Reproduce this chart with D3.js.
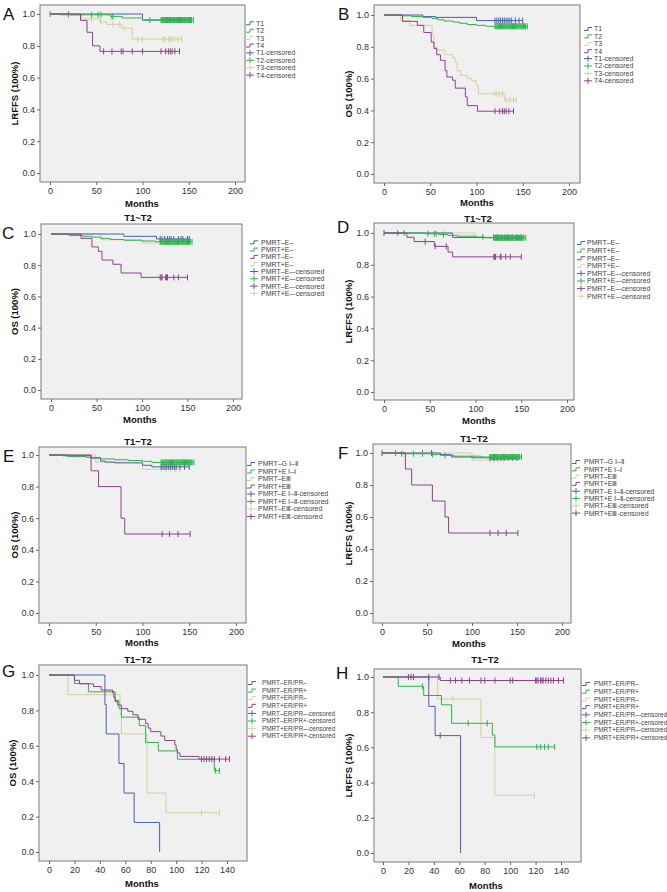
<!DOCTYPE html>
<html><head><meta charset="utf-8">
<script src="https://cdn.jsdelivr.net/npm/d3@7"></script>
<style>body{margin:0;background:#fff} text{font-family:"Liberation Sans",Arial,sans-serif}</style>
</head><body><svg id="c" width="667" height="892"></svg>
<script>
// ---------- DATA: Kaplan-Meier steps [months, survival] and censored times ----------
const dense = [120,121,122,123,124,125,126,127,128,129,130,131,132,133,134,135,136,137,138,139,140,141,142,143,144,145,146,147,148,149,150,151,152,153,155];

// Panel A  LRFFS by T stage (T1, T2, T3, T4)
const aT1 = [[100,0.962]];                       const aT1c = [122,126,130,134,138,142,146,150];
const aT2 = [[22,0.995],[65,0.985],[78,0.975],[100,0.962]];
const aT2c = [0,20,45,52,55,67,68,108].concat(dense);
const aT3 = [[12,0.99],[34,0.97],[54,0.95],[61,0.935],[77,0.91],[89,0.842]];
const aT3c = [20,45,55,68,75,80,95,100,122,124,128,130,132,135,138,142];
const aT4 = [[33,0.96],[40,0.885],[46,0.80],[54,0.765]];
const aT4c = [58,67,77,79,89,100,120,125,128,130,132,135,140];

// Panel B  OS by T stage
const bT1 = [[42,0.99],[56,0.985],[100,0.965]];
const bT1c = [120,122,124,126,128,130,132,134,136,138,142,146,150];
const bT2 = [[20,0.995],[30,0.99],[42,0.985],[52,0.978],[58,0.97],[65,0.962],[75,0.955],[82,0.948],[90,0.94],[100,0.935],[110,0.929]];
const bT2c = dense;
const bT3 = [[18,0.965],[28,0.935],[52,0.88],[54,0.80],[57,0.78],[66,0.75],[74,0.73],[77,0.705],[79,0.65],[83,0.62],[90,0.60],[95,0.585],[100,0.555],[102,0.505],[130,0.465]];
const bT3c = [120,122,125,128,132,136,140,143];
const bT4 = [[20,0.96],[36,0.935],[43,0.89],[51,0.83],[54,0.79],[57,0.75],[61,0.715],[66,0.65],[68,0.61],[74,0.59],[77,0.54],[88,0.485],[90,0.43],[101,0.395]];
const bT4c = [120,125,128,130,132,135,140];

// Panel C  OS, T1~T2 (blue, green, purple, beige)
const cS1 = [[80,0.985],[116,0.968]];            const cS1c = [120,122,125,128,130,132,135,140,143,145,150,152];
const cS2 = [[20,0.99],[35,0.985],[45,0.98],[55,0.972],[65,0.965],[80,0.96],[100,0.955],[115,0.95]];
const cS2c = dense;
const cS3 = [[33,0.972],[45,0.917],[52,0.889],[56,0.833],[68,0.806],[77,0.75],[99,0.722]];
const cS3c = [120,121,122,126,127,128,135,140,150];
const cS4 = [[55,0.963],[100,0.942]];            const cS4c = [120,125,130,135,140,145,150];

// Panel D  LRFFS, T1~T2 (blue, green, purple, beige)
const dS1 = [[75,0.972]];                        const dS1c = [0,120,124,128,132,136,140,145,150];
const dS2 = [[45,0.995],[60,0.99],[70,0.985],[80,0.98],[100,0.975],[110,0.97]];
const dS2c = [15,22,48,55,57,65,108].concat(dense);
const dS3 = [[25,0.973],[33,0.946],[55,0.916],[70,0.88],[75,0.85]];
const dS3c = [45,56,68,120,121,122,127,128,133,138,150];
const dS4 = [[100,0.97]];                        const dS4c = [120,125,130,135,140,145,148,150];

// Panel E  OS, T1-T2 (blue, green, beige, purple)
const eS1 = [[15,0.995],[45,0.98],[55,0.962],[60,0.955],[70,0.95],[100,0.935],[110,0.925]];
const eS1c = [120,122,124,126,128,130,132,134,136,140,145,150];
const eS2 = [[20,0.99],[40,0.985],[55,0.975],[70,0.97],[85,0.965],[100,0.96],[110,0.953]];
const eS2c = dense;
const eS3 = [[50,0.955],[100,0.91]];             const eS3c = [120,125,130,135,140];
const eS4 = [[45,0.9],[53,0.8],[77,0.6],[81,0.5]]; const eS4c = [121,129,138,151];

// Panel F  LRFFS, T1-T2 (blue, green, beige, purple)
const fS1 = [[65,0.99],[77,0.975],[100,0.97]];   const fS1c = [0,45,55,120,124,128,132,136,140,145,150];
const fS2 = [[20,0.995],[55,0.99],[65,0.985],[80,0.98],[110,0.975]];
const fS2c = [15,22,35,45,56,70].concat(dense);
const fS3 = [[100,0.955]];                       const fS3c = [120,125,130,135];
const fS4 = [[26,0.9],[33,0.8],[56,0.7],[70,0.6],[74,0.5]]; const fS4c = [120,129,138,151];

// Panel G  OS, T1-T2, ER/PR (blue, green, beige, purple)
const gS1 = [[44,0.833],[45,0.667],[55,0.5],[59,0.333],[67,0.167],[87,0.0]]; const gS1c = [];
const gS2 = [[20,0.952],[31,0.905],[52,0.857],[55,0.81],[57,0.762],[71,0.714],[76,0.619],[86,0.571],[101,0.524],[130,0.459]];
const gS2c = [131,134];
const gS3 = [[15,0.889],[56,0.778],[57,0.667],[77,0.333],[92,0.222]]; const gS3c = [120,134];
const gS4 = [[20,0.97],[24,0.95],[35,0.935],[41,0.915],[50,0.90],[51,0.875],[52,0.85],[54,0.83],[57,0.81],[62,0.795],[66,0.775],[70,0.75],[76,0.725],[78,0.70],[80,0.68],[88,0.655],[91,0.63],[99,0.605],[100,0.58],[101,0.56],[103,0.54],[118,0.525]];
const gS4c = [120,122,124,126,128,130,134,139,142];

// Panel H  LRFFS, T1-T2, ER/PR (blue, green, beige, purple)
const hS1 = [[36,0.833],[41,0.667],[61,0.0]];    const hS1c = [45];
const hS2 = [[12,0.947],[32,0.895],[46,0.842],[54,0.737],[86,0.67],[88,0.603]];
const hS2c = [31,67,82,121,124,127,130,135];
const hS3 = [[43,0.875],[77,0.656],[88,0.328]];  const hS3c = [55,119];
const hS4 = [[45,0.98]];
const hS4c = [20,22,24,36,44,53,57,62,68,77,80,88,100,102,120,121,122,124,125,126,128,130,132,134,138,142];

// Tick labels and legend labels
const xTicks200 = [0,50,100,150,200];
const xTicks140 = [0,20,40,60,80,100,120,140];
const yTicks = [0,0.2,0.4,0.6,0.8,1.0];
const legT = ["T1","T2","T3","T4","T1-censored","T2-censored","T3-censored","T4-censored"];
const legE = ["PMRT–E–","PMRT+E–","PMRT–E–","PMRT+E–","PMRT–E–-censored","PMRT+E–-censored","PMRT–E–-censored","PMRT+E–-censored"];
const legG = ["PMRT–G Ⅰ–Ⅱ","PMRT+E Ⅰ–Ⅰ","PMRT–EⅢ","PMRT+EⅢ","PMRT–E Ⅰ–Ⅱ-censored","PMRT+E Ⅰ–Ⅱ-censored","PMRT–EⅢ-censored","PMRT+EⅢ-censored"];
const legR = ["PMRT–ER/PR–","PMRT–ER/PR+","PMRT+ER/PR–","PMRT+ER/PR+","PMRT–ER/PR–-censored","PMRT–ER/PR+-censored","PMRT+ER/PR–-censored","PMRT+ER/PR+-censored"];

// ---------- STYLE / LAYOUT ----------
const BLUE="#4b5fae", GREEN="#2eb34c", BEIGE="#d6d19b", PURPLE="#8c428d";
const colA = [BLUE,GREEN,BEIGE,PURPLE];
const colC = [BLUE,GREEN,PURPLE,BEIGE];
const panels = [
 {L:"A",col:colA,series:[[aT1,aT1c],[aT2,aT2c],[aT3,aT3c],[aT4,aT4c]],leg:legT,ylab:"LRFFS (100%)",title:null,
  rect:[40,5,245,182],x0:50,xm:235,xMax:200,xt:xTicks200,y1:14,y0:173,let:[3,20],ylx:15,mon:[142,207],lg:[246,256,23.3,7.4,7]},
 {L:"B",col:colA,series:[[bT1,bT1c],[bT2,bT2c],[bT3,bT3c],[bT4,bT4c]],leg:legT,ylab:"OS (100%)",title:null,
  rect:[374,5,580,183],x0:384,xm:569,xMax:200,xt:xTicks200,y1:15,y0:174,let:[338,20],ylx:349,mon:[477,206],lg:[584,594,29,7.4,7]},
 {L:"C",col:colC,series:[[cS1,cS1c],[cS2,cS2c],[cS3,cS3c],[cS4,cS4c]],leg:legE,ylab:"OS (100%)",title:["T1~T2",138,221],
  rect:[41,224,242,399],x0:51,xm:233,xMax:200,xt:xTicks200,y1:234,y0:390,let:[2,239],ylx:15,mon:[140,423],lg:[250,261,242.3,7.3,7]},
 {L:"D",col:colC,series:[[dS1,dS1c],[dS2,dS2c],[dS3,dS3c],[dS4,dS4c]],leg:legE,ylab:"LRFFS (100%)",title:["T1~T2",478,222],
  rect:[374,223,574,400],x0:384,xm:567,xMax:200,xt:xTicks200,y1:233,y0:392,let:[337,233],ylx:349,mon:[479,424],lg:[577,587,243,7.6,7]},
 {L:"E",col:colA,series:[[eS1,eS1c],[eS2,eS2c],[eS3,eS3c],[eS4,eS4c]],leg:legG,ylab:"OS (100%)",title:["T1−T2",138,445],
  rect:[39,447,246,623],x0:49,xm:236,xMax:200,xt:xTicks200,y1:455,y0:613,let:[3,462],ylx:15,mon:[142,646],lg:[247,258,464,7.5,7]},
 {L:"F",col:colA,series:[[fS1,fS1c],[fS2,fS2c],[fS3,fS3c],[fS4,fS4c]],leg:legG,ylab:"LRFFS (100%)",title:["T1−T2",474,442],
  rect:[373,444,571,623],x0:382,xm:562,xMax:200,xt:xTicks200,y1:453,y0:613,let:[338,459],ylx:349,mon:[469,647],lg:[572,584,462,7.3,7]},
 {L:"G",col:colA,series:[[gS1,gS1c],[gS2,gS2c],[gS3,gS3c],[gS4,gS4c]],leg:legR,ylab:"OS (100%)",title:["T1−T2",138,663],
  rect:[39,665,247,861],x0:49,xm:227,xMax:140,xt:xTicks140,y1:675,y0:852,let:[2,677],ylx:13,mon:[142,887],lg:[248,262,683,7.6,6.4]},
 {L:"H",col:colA,series:[[hS1,hS1c],[hS2,hS2c],[hS3,hS3c],[hS4,hS4c]],leg:legR,ylab:"LRFFS (100%)",title:["T1−T2",485,663],
  rect:[374,669,581,862],x0:383,xm:561,xMax:140,xt:xTicks140,y1:677,y0:853,let:[336,679],ylx:349,mon:[486,889],lg:[582,594,684,7.7,6.4]}
];

const svg = d3.select("#c");
svg.append("rect").attr("width",667).attr("height",892).attr("fill","#fff");

function survAt(ev,t){ let s=1; for(const [et,es] of ev){ if(et<=t) s=es; } return s; }
const drawRank = {[BEIGE]:0,[BLUE]:1,[GREEN]:2,[PURPLE]:3};

panels.forEach(p=>{
  const g = svg.append("g");
  const [rl,rt,rr,rb] = p.rect;
  const x = d3.scaleLinear().domain([0,p.xMax]).range([p.x0,p.xm]);
  const y = d3.scaleLinear().domain([0,1]).range([p.y0,p.y1]);
  g.append("rect").attr("x",rl).attr("y",rt).attr("width",rr-rl).attr("height",rb-rt)
    .attr("fill","#f0f0f0").attr("stroke","#7a7a7a").attr("stroke-width",1);
  const ax = g.append("g").attr("transform",`translate(0,${rb})`)
    .call(d3.axisBottom(x).tickValues(p.xt).tickSize(3).tickPadding(3).tickFormat(d3.format("d")));
  const ay = g.append("g").attr("transform",`translate(${rl},0)`)
    .call(d3.axisLeft(y).tickValues(yTicks).tickSize(3).tickPadding(2).tickFormat(d3.format(".1f")));
  [ax,ay].forEach(a=>{ a.select(".domain").remove();
    a.selectAll("line").attr("stroke","#666");
    a.selectAll("text").attr("font-size",9).attr("fill","#333").attr("font-family","'Liberation Sans',Arial,sans-serif"); });
  const line = d3.line().x(d=>x(d[0])).y(d=>y(d[1])).curve(d3.curveStepAfter);
  const order = [0,1,2,3].sort((a,b)=>drawRank[p.col[a]]-drawRank[p.col[b]]);
  order.forEach(i=>{
    const [ev,cens] = p.series[i];
    const c = p.col[i];
    const end = Math.max(ev.length?ev[ev.length-1][0]:0, cens.length?d3.max(cens):0);
    const pts = [[0,1]].concat(ev);
    const last = pts[pts.length-1];
    if(end>last[0]) pts.push([end,last[1]]);
    g.append("path").attr("d",line(pts)).attr("fill","none").attr("stroke",c).attr("stroke-width",1);
    g.selectAll(null).data(cens).enter().append("line")
      .attr("x1",d=>x(d)).attr("x2",d=>x(d))
      .attr("y1",d=>y(survAt(ev,d))-3).attr("y2",d=>y(survAt(ev,d))+3)
      .attr("stroke",c).attr("stroke-width",1);
  });
  g.append("text").attr("x",p.let[0]).attr("y",p.let[1]).attr("font-size",17).attr("fill","#111").text(p.L);
  const cy = (rt+rb)/2;
  g.append("text").attr("transform",`translate(${p.ylx},${cy}) rotate(-90)`).attr("text-anchor","middle")
    .attr("dy","0.35em").attr("font-size",9.5).attr("font-weight","bold").attr("fill","#111").text(p.ylab);
  g.append("text").attr("x",p.mon[0]).attr("y",p.mon[1]).attr("text-anchor","middle")
    .attr("font-size",9.5).attr("font-weight","bold").attr("fill","#111").text("Months");
  if(p.title) g.append("text").attr("x",p.title[1]).attr("y",p.title[2]).attr("text-anchor","middle")
    .attr("font-size",9.5).attr("font-weight","bold").attr("fill","#111").text(p.title[0]);
  const [lx,tx,ly,ldy,fs] = p.lg;
  p.leg.forEach((lab,k)=>{
    const yy = ly + k*ldy;
    const c = p.col[k%4];
    if(k<4){
      g.append("path").attr("d",`M${lx},${yy+1.5}H${lx+4}V${yy-1.5}H${lx+8}`).attr("fill","none").attr("stroke",c).attr("stroke-width",1);
    } else {
      g.append("path").attr("d",`M${lx},${yy}H${lx+8}M${lx+4},${yy-3}V${yy+3}`).attr("fill","none").attr("stroke",c).attr("stroke-width",1);
    }
    g.append("text").attr("x",tx).attr("y",yy).attr("dy","0.35em").attr("font-size",fs).attr("fill","#444").text(lab);
  });
});
</script></body></html>
